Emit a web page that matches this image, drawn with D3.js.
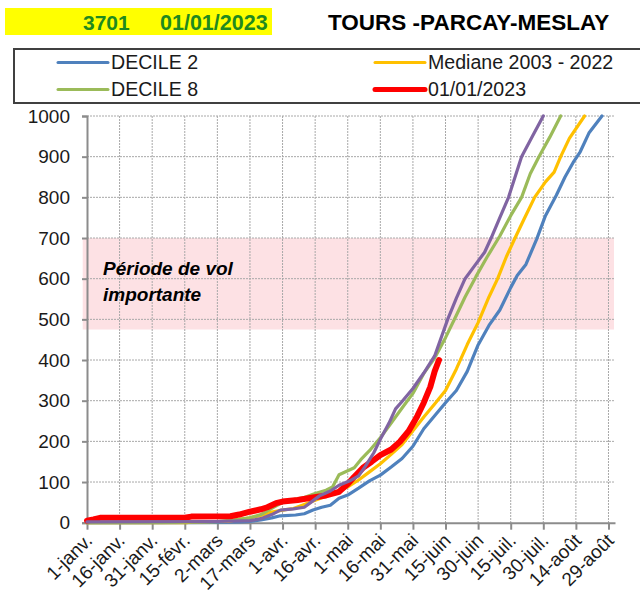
<!DOCTYPE html>
<html>
<head>
<meta charset="utf-8">
<script src="https://cdn.jsdelivr.net/npm/d3@7"></script>
<style>
  html, body { margin: 0; padding: 0; background: #fff; }
  svg { display: block; font-family: "Liberation Sans", Arial, sans-serif; }
</style>
</head>
<body>
<svg id="chart" width="640" height="591"></svg>
<script>
// ---------- data ----------
const headerCode = "3701";
const headerDate = "01/01/2023";
const titleText = "TOURS -PARCAY-MESLAY";
const bandText = ["Période de vol", "importante"];
const bandRange = [475, 700];

const xTickDays = [0, 15, 30, 45, 60, 75, 90, 105, 120, 135, 150, 165, 180, 195, 210, 225, 240];
const xTickLabels = ["1-janv.", "16-janv.", "31-janv.", "15-févr.", "2-mars", "17-mars", "1-avr.", "16-avr.",
  "1-mai", "16-mai", "31-mai", "15-juin", "30-juin", "15-juil.", "30-juil.", "14-août", "29-août"];
const yTicks = [0, 100, 200, 300, 400, 500, 600, 700, 800, 900, 1000];

const decile2Days = [0, 30, 60, 70, 75, 80, 85, 89, 96, 100, 104, 108, 112, 116, 120, 125, 130, 135, 140, 145, 150, 155, 160, 165, 170, 175, 180, 185, 190, 195, 198, 202, 207, 211, 216, 220, 224, 227, 231, 237];
const decile2Vals = [0, 0, 1, 2, 3, 7, 12, 17, 19, 22, 31, 38, 43, 60, 68, 85, 103, 117, 137, 158, 188, 231, 263, 295, 325, 372, 437, 485, 523, 578, 608, 635, 698, 755, 805, 850, 888, 912, 958, 1000];

const medianDays = [0, 46, 48, 65, 70, 75, 80, 85, 90, 95, 100, 105, 110, 115, 120, 125, 130, 135, 140, 145, 150, 155, 160, 165, 170, 175, 180, 185, 189, 193, 197, 201, 206, 211, 215, 218, 222, 229];
const medianVals = [0, 0, 2, 3, 8, 12, 18, 26, 31, 35, 45, 55, 65, 76, 88, 105, 125, 145, 168, 192, 226, 260, 292, 325, 378, 438, 492, 555, 600, 654, 700, 745, 800, 838, 862, 900, 945, 1000];

const decile8Days = [0, 40, 60, 70, 75, 80, 85, 90, 95, 100, 105, 110, 113, 116, 121, 123, 126, 130, 135, 140, 145, 150, 155, 160, 165, 170, 174, 179, 184, 190, 195, 200, 204, 208, 213, 218];
const decile8Vals = [0, 1, 3, 8, 12, 20, 35, 50, 57, 62, 72, 80, 88, 118, 130, 135, 155, 177, 209, 245, 282, 318, 367, 405, 455, 510, 555, 605, 652, 705, 755, 800, 858, 900, 948, 1000];

const otherDays = [0, 60, 75, 80, 85, 89, 95, 100, 103, 107, 112, 116, 121, 125, 128, 132, 135, 139, 142, 145, 150, 155, 160, 166, 170, 174, 178, 183, 186, 190, 194, 200, 205, 210];
const otherVals = [2, 3, 5, 10, 20, 31, 34, 38, 50, 66, 78, 92, 103, 115, 138, 172, 205, 245, 280, 298, 330, 368, 410, 500, 552, 600, 629, 665, 700, 750, 800, 900, 950, 1000];

const year2023Days = [0, 3, 6, 45, 48, 66, 70, 75, 80, 83, 87, 90, 97, 104, 110, 116, 120, 123, 127, 131, 135, 140, 144, 148, 152, 155, 158, 160, 162];
const year2023Vals = [5, 8, 12, 12, 15, 16, 20, 27, 33, 38, 48, 52, 56, 62, 67, 76, 95, 113, 135, 150, 166, 180, 199, 225, 262, 295, 334, 372, 400];

const seriesNames = ["DECILE 2", "Mediane 2003 - 2022", "DECILE 8", "01/01/2023"];

// ---------- drawing ----------
const svg = d3.select("#chart");
const W = 640, H = 591;
svg.append("rect").attr("width", W).attr("height", H).attr("fill", "#fff");

const plot = { left: 87, right: 615, top: 116, bottom: 522.7 };
const x = d3.scaleLinear().domain([0, 243]).range([plot.left, plot.right]);
const y = d3.scaleLinear().domain([0, 1000]).range([plot.bottom, plot.top]);

// header
svg.append("rect").attr("x", 5).attr("y", 8).attr("width", 267).attr("height", 27).attr("fill", "#ffff00");
svg.append("text").attr("x", 83).attr("y", 29.5).attr("font-size", 21).attr("font-weight", "bold")
  .attr("fill", "#1f8a1f").text(headerCode);
svg.append("text").attr("x", 160).attr("y", 29.5).attr("font-size", 21.5).attr("font-weight", "bold")
  .attr("fill", "#1f8a1f").text(headerDate);
svg.append("text").attr("x", 328).attr("y", 29.5).attr("font-size", 22.5).attr("font-weight", "bold")
  .attr("fill", "#000").text(titleText);

// legend
svg.append("rect").attr("x", 14).attr("y", 49).attr("width", 660).attr("height", 54)
  .attr("fill", "#fff").attr("stroke", "#404040").attr("stroke-width", 2);

const colors = { d2: "#4F81BD", med: "#FFC000", d8: "#9BBB59", y23: "#FF0000", other: "#8064A2" };
const legendItems = [
  { name: seriesNames[0], color: colors.d2, w: 3, lx: 58, ly: 62.5 },
  { name: seriesNames[1], color: colors.med, w: 3, lx: 375, ly: 62.5 },
  { name: seriesNames[2], color: colors.d8, w: 3, lx: 58, ly: 89.5 },
  { name: seriesNames[3], color: colors.y23, w: 5, lx: 375, ly: 89.5 }
];
legendItems.forEach(it => {
  svg.append("line").attr("x1", it.lx).attr("x2", it.lx + 50).attr("y1", it.ly).attr("y2", it.ly)
    .attr("stroke", it.color).attr("stroke-width", it.w).attr("stroke-linecap", "round");
  svg.append("text").attr("x", it.lx + 53).attr("y", it.ly).attr("dy", "0.35em")
    .attr("font-size", 19.6).attr("fill", "#1a1a1a").text(it.name);
});

// band
svg.append("rect").attr("x", 82.7).attr("y", y(bandRange[1]))
  .attr("width", 614 - 82.7).attr("height", y(bandRange[0]) - y(bandRange[1]))
  .attr("fill", "#fde1e4");

// gridlines
const grid = svg.append("g");
grid.selectAll("line.h").data(yTicks.filter(d => d > 0)).enter().append("line")
  .attr("x1", plot.left).attr("x2", plot.right).attr("y1", d => y(d)).attr("y2", d => y(d))
  .attr("stroke", "#a8a8a8").attr("stroke-width", 1).attr("stroke-dasharray", "2,1");
grid.selectAll("line.v").data(xTickDays.filter(d => d > 0)).enter().append("line")
  .attr("x1", d => x(d)).attr("x2", d => x(d)).attr("y1", plot.top).attr("y2", plot.bottom)
  .attr("stroke", "#a8a8a8").attr("stroke-width", 1).attr("stroke-dasharray", "2,1");

// band text
bandText.forEach((t, i) => {
  svg.append("text").attr("x", 103).attr("y", 275 + i * 26)
    .attr("font-size", 19).attr("font-weight", "bold").attr("font-style", "italic")
    .attr("fill", "#000").text(t);
});

// axes
const yAxis = d3.axisLeft(y).tickValues(yTicks).tickFormat(d3.format("d")).tickSize(5).tickPadding(12);
const gy = svg.append("g").attr("transform", `translate(${plot.left},0)`).call(yAxis);
gy.select(".domain").attr("stroke", "#8c8c8c").attr("stroke-width", 2);
gy.selectAll(".tick line").attr("stroke", "#8c8c8c").attr("stroke-width", 2);
gy.selectAll(".tick text").attr("font-size", 19).attr("fill", "#1a1a1a")
  .attr("font-family", "Liberation Sans, Arial, sans-serif");

const xAxis = d3.axisBottom(x).tickValues(xTickDays).tickFormat((d, i) => xTickLabels[i]).tickSize(7).tickSizeOuter(0);
const gx = svg.append("g").attr("transform", `translate(0,${plot.bottom})`).call(xAxis);
gx.select(".domain").attr("stroke", "#8c8c8c").attr("stroke-width", 2);
gx.selectAll(".tick line").attr("stroke", "#8c8c8c").attr("stroke-width", 2);
gx.selectAll(".tick text").attr("font-size", 19).attr("fill", "#1a1a1a")
  .attr("font-family", "Liberation Sans, Arial, sans-serif")
  .attr("text-anchor", "end").attr("y", 0).attr("dy", 0)
  .attr("transform", "translate(6,19) rotate(-45)");

// lines
const line = d3.line().x(d => x(d[0])).y(d => y(d[1]));
const zip = (a, b) => a.map((d, i) => [d, b[i]]);
const series = [
  { pts: zip(decile2Days, decile2Vals), color: colors.d2, w: 3.2 },
  { pts: zip(medianDays, medianVals), color: colors.med, w: 3.2 },
  { pts: zip(decile8Days, decile8Vals), color: colors.d8, w: 3.2 },
  { pts: zip(year2023Days, year2023Vals), color: colors.y23, w: 6 },
  { pts: zip(otherDays, otherVals), color: colors.other, w: 3.2 }
];
series.forEach(s => {
  svg.append("path").attr("d", line(s.pts)).attr("fill", "none")
    .attr("stroke", s.color).attr("stroke-width", s.w)
    .attr("stroke-linejoin", "round").attr("stroke-linecap", "round");
});
</script>
</body>
</html>
